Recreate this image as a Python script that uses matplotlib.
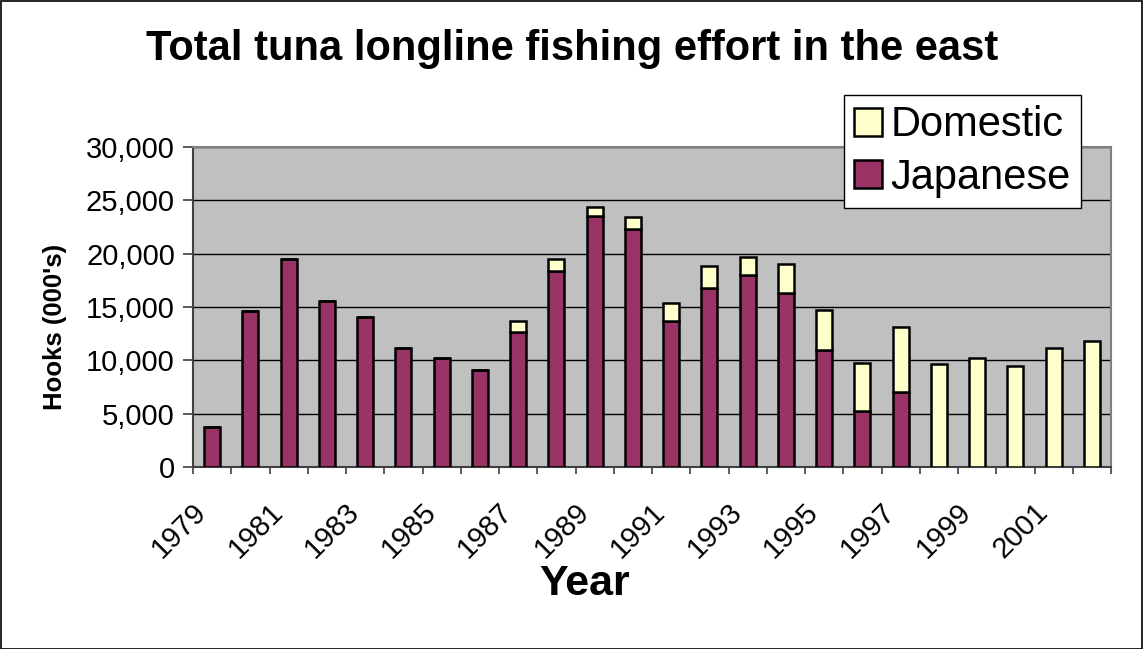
import matplotlib
matplotlib.use("Agg")
import matplotlib.pyplot as plt
import matplotlib.transforms as mtransforms
import numpy as np
from matplotlib.patches import Rectangle, Patch
from matplotlib.ticker import FuncFormatter, MultipleLocator

plt.rcParams['font.family'] = ['Liberation Sans', 'DejaVu Sans']

years = list(range(1979, 2003))
japanese = [3750, 14650, 19480, 15530, 14090, 11120, 10210, 9080,
            12680, 18410, 23550, 22320, 13680, 16750, 18030, 16340,
            10960, 5230, 7010, 0, 0, 0, 0, 0]
total = [3750, 14650, 19480, 15530, 14090, 11120, 10210, 9080,
         13710, 19540, 24360, 23480, 15400, 18880, 19700, 19070,
         14720, 9710, 13150, 9620, 10180, 9490, 11180, 11830]
domestic = [t - j for t, j in zip(total, japanese)]

title = "Total tuna longline fishing effort in the east"
x_label = "Year"
y_label = "Hooks (000's)"
series_names = ["Japanese", "Domestic"]
colors = ["#993366", "#FFFFCC"]

W, H = 1143, 649
fig = plt.figure(figsize=(W / 100, H / 100), dpi=100)
ax = fig.add_axes([193 / W, 1 - 467 / H, (1111 - 193) / W, (467 - 147) / H])
ax.set_facecolor("#C0C0C0")

x = np.arange(len(years))
bw = 0.42
ax.bar(x, japanese, bw, color=colors[0], edgecolor="black", linewidth=1.8, zorder=3)
ax.bar(x, domestic, bw, bottom=japanese, color=colors[1], edgecolor="black",
       linewidth=1.8, zorder=3)

ax.set_xlim(-0.5, len(years) - 0.5)
ax.set_ylim(0, 30000)
ax.yaxis.set_major_locator(MultipleLocator(5000))
ax.yaxis.set_major_formatter(FuncFormatter(lambda v, p: f"{int(v):,}"))
ax.grid(axis="y", color="black", linewidth=1.0, zorder=1)
ax.set_axisbelow(True)

# x ticks at category boundaries, labels at every other category centre
ax.set_xticks(np.arange(-0.5, len(years)), minor=False)
ax.set_xticklabels([])
ax.set_xticks(x[::2], minor=True)
ax.set_xticklabels([str(y) for y in years[::2]], minor=True, rotation=45,
                   ha="right", va="top", rotation_mode="anchor", fontsize=21)
ax.tick_params(axis="x", which="minor", length=0, pad=12)
ax.tick_params(axis="x", which="major", length=5, width=1.2, color="#404040", direction="out")
ax.tick_params(axis="y", length=7, width=1.2, color="#404040", labelsize=21, pad=6)

offset = mtransforms.ScaledTranslation(-20 / 100, -14 / 100, fig.dpi_scale_trans)
for lbl in ax.get_xticklabels(minor=True):
    lbl.set_transform(lbl.get_transform() + offset)

for side in ["top", "right"]:
    ax.spines[side].set_color("#808080")
    ax.spines[side].set_linewidth(1.5)
for side in ["left", "bottom"]:
    ax.spines[side].set_color("#404040")
    ax.spines[side].set_linewidth(1.5)

fig.text(572 / W, 1 - 49 / H, title, ha="center", va="center",
         fontsize=30, fontweight="bold")
fig.text(585 / W, 1 - 584 / H, x_label, ha="center", va="center",
         fontsize=31, fontweight="bold")
fig.text(55 / W, 1 - 327 / H, y_label, ha="center", va="center",
         rotation=90, fontsize=18.5, fontweight="bold")

handles = [Patch(facecolor=colors[1], edgecolor="black", linewidth=1.8),
           Patch(facecolor=colors[0], edgecolor="black", linewidth=1.8)]
leg = fig.legend(handles, [series_names[1], series_names[0]], loc="upper right",
                 bbox_to_anchor=(1081 / W, 1 - 95 / H), fontsize=30,
                 frameon=True, fancybox=False, edgecolor="black", framealpha=1,
                 handlelength=0.67, handleheight=0.67, handletextpad=0.2,
                 borderpad=0.25, labelspacing=0.3, borderaxespad=0)
leg.get_frame().set_linewidth(1.0)

fig.patches.append(Rectangle((0.5 / W, 0.5 / H), 1 - 1.5 / W, 1 - 1.5 / H,
                             transform=fig.transFigure, fill=False,
                             edgecolor="black", linewidth=1.2))

fig.savefig("out.png", dpi=100)
